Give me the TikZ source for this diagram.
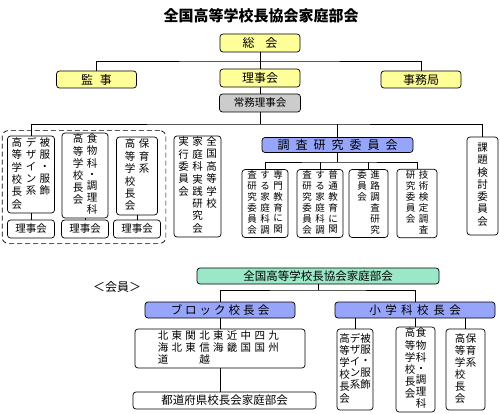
\documentclass[tikz,border=0pt]{standalone}
\usepackage{fontspec}
\setmainfont{Noto Sans CJK JP}
\usetikzlibrary{fit}
\definecolor{kiiro}{RGB}{255,255,153}
\definecolor{haiiro}{RGB}{204,204,204}
\definecolor{ao}{RGB}{150,165,250}
\definecolor{midori}{RGB}{155,232,200}
\newcommand{\fsz}[2]{\fontsize{#1}{#2}\selectfont}
\newcommand{\tate}[1]{\begin{tabular}[t]{@{}c@{}}#1\end{tabular}}
\begin{document}
\begin{tikzpicture}[x=1pt, y=-1pt, line width=0.7pt,
    every node/.style={font=\fsz{12}{14}},
    box/.style={draw, rounded corners=3pt, inner sep=1pt},
    kibox/.style={box, fill=kiiro, minimum width=80pt, minimum height=18pt},
    aobox/.style={box, fill=ao, minimum height=16pt, font=\fsz{11.5}{13}},
    tbox/.style={box, font=\fsz{10.5}{12}},
    sbox/.style={box, font=\fsz{9.5}{10.5}, minimum width=46pt, minimum height=65pt},
    ubox/.style={box, font=\fsz{10.5}{11}, minimum height=81pt}]
    \useasboundingbox (0,0) rectangle (500,414);
    \node[font=\fsz{15}{18}\bfseries] (title) at (261,16) {全国高等学校長協会家庭部会};
    % 総会・理事会
    \node[kibox] (soukai) at (260,43) {総\hspace{11pt}会};
    \node[kibox, minimum height=17pt] (kanji) at (96.5,79.5) {監\hspace{7pt}事};
    \node[kibox] (rijikai) at (260,78) {理事会};
    \node[kibox, minimum height=17pt] (jimu) at (421,79.5) {事務局};
    \node[box, fill=haiiro, minimum width=81pt, minimum height=18pt, font=\fsz{10.5}{12}] (joumu) at (260,103) {常務理事会};
    \coordinate (bus1) at (260,61);
    \draw (soukai) -- (rijikai);
    \draw (kanji.north) |- (bus1) -| (jimu.north);
    \draw (rijikai) -- (joumu);
    % 小学科校長会と理事会
    \node[tbox, minimum width=47pt, minimum height=77pt] (kou1) at (31,174.5)
        {\tate{高\\等\\学\\校\\長\\会}\hspace{3.5pt}\tate{デ\\ザ\\イ\\ン\\系}\hspace{3.5pt}\tate{被\\服\\・\\服\\飾}};
    \node[tbox, minimum width=46pt, minimum height=79pt, font=\fsz{10.5}{11}] (kou2) at (85,175.5)
        {\tate{高\\等\\学\\校\\長\\会}\hspace{3.5pt}\tate{食\\物\\科\\・\\調\\理\\科}};
    \node[tbox, minimum width=41pt, minimum height=78pt] (kou3) at (137,176)
        {\tate{高\\等\\学\\校\\長\\会}\hspace{3.5pt}\tate{保\\育\\系}};
    \foreach \x [count=\n] in {31,85,137} {
        \node[box, minimum width=47pt, minimum height=18pt, font=\fsz{10.5}{12}] (riji\n) at (\x,229) {理事会};
        \draw (kou\n) -- (riji\n);
    }
    \node[draw, dashed, dash pattern=on 5pt off 3pt, rounded corners=6pt, inner sep=5pt,
        fit=(kou1)(kou3)(riji1)(riji3)] (kouchou) {};
    \node[tbox, minimum width=47pt, minimum height=97pt] (jikkou) at (197.5,186.5)
        {\tate{実\\行\\委\\員\\会}\hspace{3.5pt}\tate{家\\庭\\科\\実\\践\\研\\究\\会}\hspace{3.5pt}\tate{全\\国\\高\\等\\学\\校}};
    % 調査研究委員会
    \node[aobox, minimum width=151pt, minimum height=15pt, font=\fsz{12}{14}] (chousa) at (337.5,145)
        {調\hspace{6pt}査\hspace{6pt}研\hspace{6pt}究\hspace{6pt}委\hspace{6pt}員\hspace{6pt}会};
    \node[sbox] (subA) at (265,203.5)
        {\tate{査\\研\\究\\委\\員\\会}\hspace{3.5pt}\tate{す\\る\\家\\庭\\科\\調}\hspace{3.5pt}\tate{専\\門\\教\\育\\に\\関}};
    \node[sbox] (subB) at (320,203.5)
        {\tate{査\\研\\究\\委\\員\\会}\hspace{3.5pt}\tate{す\\る\\家\\庭\\科\\調}\hspace{3.5pt}\tate{普\\通\\教\\育\\に\\関}};
    \node[sbox, minimum width=39pt] (subC) at (368.5,203.5)
        {\tate{委\\員\\会}\hspace{3.5pt}\tate{進\\路\\調\\査\\研\\究}};
    \node[sbox, minimum width=40pt] (subD) at (417,203.5)
        {\tate{研\\究\\委\\員\\会}\hspace{3.5pt}\tate{技\\術\\検\\定\\調\\査}};
    \node[tbox, minimum width=31pt, minimum height=98pt] (kadai) at (482.5,186)
        {\tate{課\\題\\検\\討\\委\\員\\会}};
    \coordinate (bus2) at (260,124);
    \coordinate (bus4) at (337.5,162);
    \draw (joumu) -- (bus2);
    \draw (kou1.north) |- (bus2) -| (kadai.north);
    \draw (chousa.north) -- (chousa.north |- bus2);
    \draw (chousa) -- (bus4);
    \draw (subA.north) |- (bus4) -| (subD.north);
    \draw (subB.north) -- (subB.north |- bus4);
    \draw (subC.north) -- (subC.north |- bus4);
    % 会員
    \node[box, fill=midori, minimum width=242pt, minimum height=16pt, font=\fsz{11.5}{13}] (zenkoku) at (318,276) {全国高等学校長協会家庭部会};
    \node (kaiin) at (117,287) {＜会員＞};
    \node[aobox, minimum width=150pt] (block) at (220,310)
        {ブ\hspace{3pt}ロ\hspace{3pt}ッ\hspace{3pt}ク\hspace{3pt}校\hspace{3pt}長\hspace{3pt}会};
    \node[aobox, minimum width=160pt] (shougaku) at (415,310)
        {小\hspace{4.5pt}学\hspace{4.5pt}科\hspace{4.5pt}校\hspace{4.5pt}長\hspace{4.5pt}会};
    \node[box, minimum width=170pt, minimum height=39pt, font=\fsz{10.5}{11}] (blist) at (220,348.5)
        {\begin{tabular}{@{}*{9}{c@{\hspace{3.3pt}}}@{}}
         北&東&関&北&東&近&中&四&九\\
         海&北&東&信&海&畿&国&国&州\\
         道&&&越&&&&&
         \end{tabular}};
    \node[box, minimum width=183pt, minimum height=17pt, font=\fsz{11.5}{13}] (todo) at (224.5,400.5) {都道府県校長会家庭部会};
    \node[ubox, minimum width=36pt] (s1) at (355,369.5)
        {\tate{高\\等\\学\\校\\長\\会}\tate{デ\\ザ\\イ\\ン\\系}\tate{被\\服\\・\\服\\飾}};
    \node[ubox, minimum width=39pt] (s2) at (415.5,369.5)
        {\tate{高\\等\\学\\校\\長\\会}\hspace{0.5pt}\tate{食\\物\\科\\・\\調\\理\\科}};
    \node[ubox, minimum width=39pt] (s3) at (465.5,369.5)
        {\tate{高\\等\\学\\校\\長\\会}\hspace{0.5pt}\tate{保\\育\\系}};
    \coordinate (bus3) at (318,290);
    \draw (zenkoku) -- (bus3);
    \draw (block.north) |- (bus3) -| (shougaku.north);
    \draw (block) -- (blist);
    \draw (blist) -- (blist |- todo.north);
    \foreach \n in {s1,s2,s3} \draw (\n.north) -- (\n.north |- shougaku.south);
\end{tikzpicture}
\end{document}
